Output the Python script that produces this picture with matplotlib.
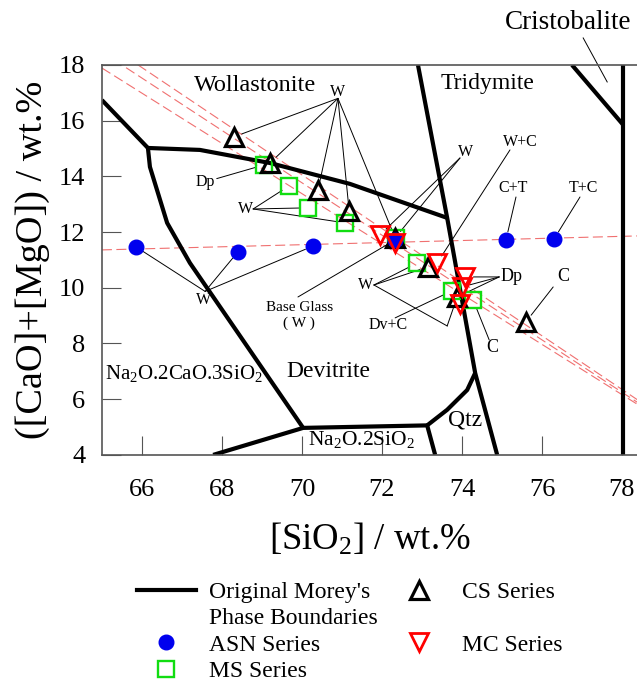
import numpy as np
import matplotlib.pyplot as plt
from matplotlib.lines import Line2D

plt.rcParams['font.family'] = 'Liberation Serif'
plt.rcParams['mathtext.fontset'] = 'custom'
plt.rcParams['mathtext.rm'] = 'Liberation Serif'
plt.rcParams['mathtext.it'] = 'Liberation Serif:italic'

# glass compositions: [SiO2] and [CaO]+[MgO], wt.%
asn_si = [65.85, 68.4, 70.28, 72.33, 75.1, 76.3]
asn_ca = [11.47, 11.29, 11.5, 11.72, 11.72, 11.75]

ms_si = [69.05, 69.68, 70.15, 71.08, 72.35, 72.88, 73.75, 74.28]
ms_ca = [14.41, 13.66, 12.87, 12.33, 11.79, 10.89, 9.89, 9.56]

cs_si = [68.3, 69.2, 70.4, 71.18, 72.33, 73.15, 73.88, 75.6]
cs_ca = [15.42, 14.48, 13.51, 12.76, 11.79, 10.75, 9.67, 8.78]

mc_si = [71.95, 72.33, 73.38, 74.08, 74.0, 73.95]
mc_ca = [11.9, 11.61, 10.89, 10.39, 10.03, 9.42]

# Morey's phase boundaries
b_woll_x = [65.0, 66.15]
b_woll_y = [16.74, 15.02]
b_devw_x = [66.15, 67.45, 69.2, 71.2, 73.63]
b_devw_y = [15.02, 14.95, 14.48, 13.73, 12.51]
b_n2c3_x = [66.15, 66.2, 66.63, 67.2, 70.03]
b_n2c3_y = [15.02, 14.34, 12.33, 10.89, 4.97]
b_ns2_x = [67.78, 70.03, 73.13, 73.33]
b_ns2_y = [4.0, 4.97, 5.06, 4.0]
b_qtz_x = [73.13, 73.63, 74.13, 74.33]
b_qtz_y = [5.06, 5.62, 6.33, 6.94]
b_trid_x = [72.9, 73.63, 74.33, 74.88]
b_trid_y = [18.0, 12.51, 6.94, 4.0]
b_cris_x = [76.75, 78.03]
b_cris_y = [18.0, 15.85]
b_edge_x = [78.03, 78.03]
b_edge_y = [18.0, 4.0]
boundaries = [(b_woll_x, b_woll_y), (b_devw_x, b_devw_y), (b_n2c3_x, b_n2c3_y),
              (b_ns2_x, b_ns2_y), (b_qtz_x, b_qtz_y), (b_trid_x, b_trid_y),
              (b_cris_x, b_cris_y), (b_edge_x, b_edge_y)]

# linear trends: value at SiO2 = 65 and slope
trend_y65 = [17.89, 18.47, 18.87, 11.36]
trend_slope = [-0.902, -0.94, -0.963, 0.0375]

fig = plt.figure(figsize=(6.37, 6.81), dpi=100)
ax = fig.add_axes([0.160, 0.332, 0.840, 0.5726])
ax.set_xlim(65, 78.375)
ax.set_ylim(4, 18)

xx = np.linspace(65, 78.4, 50)
for y0, k in zip(trend_y65, trend_slope):
    ax.plot(xx, y0 + k * (xx - 65), color='#f07070', lw=0.8, dashes=(9, 4), zorder=1)

for bx, by in boundaries:
    ax.plot(bx, by, color='k', lw=3, solid_capstyle='butt', zorder=2)


def pt(xs, ys, i):
    return (xs[i], ys[i])


def callout(text, txy, anchor, targets, size=11.5, via=None):
    ax.text(txy[0], txy[1], text, ha='center', va='center', fontsize=size, zorder=3)
    for t in targets:
        start = anchor
        if via is not None:
            ax.plot([anchor[0], via[0]], [anchor[1], via[1]], color='k', lw=0.7, zorder=3)
            start = via
        ax.annotate('', xy=t, xytext=start,
                    arrowprops=dict(arrowstyle='-', lw=0.7, color='k', shrinkA=0, shrinkB=6),
                    zorder=3)


callout('W', (70.9, 17.03), (70.9, 16.8),
        [pt(cs_si, cs_ca, i) for i in range(5)])
callout('Dp', (67.58, 13.8), (67.87, 13.92), [pt(ms_si, ms_ca, 0)])
callout('W', (68.58, 12.83), (68.78, 12.83), [pt(ms_si, ms_ca, i) for i in (1, 2, 3)])
callout('W', (67.55, 9.57), (67.58, 9.87), [pt(asn_si, asn_ca, i) for i in (0, 1, 2)])
callout('Base Glass\n( W )', (69.93, 9.0), (69.9, 9.67), [pt(asn_si, asn_ca, 3)], size=11)
callout('W', (74.08, 14.88), (73.95, 14.66), [pt(mc_si, mc_ca, 0), pt(cs_si, cs_ca, 4)])
callout('W+C', (75.45, 15.24), (75.2, 14.95), [pt(mc_si, mc_ca, 2)])
callout('C+T', (75.28, 13.58), (75.35, 13.26), [pt(asn_si, asn_ca, 4)])
callout('T+C', (77.03, 13.58), (76.95, 13.26), [pt(asn_si, asn_ca, 5)])
callout('W', (71.6, 10.1), (71.8, 10.1), [pt(ms_si, ms_ca, 5), pt(cs_si, cs_ca, 5)])
callout('', (71.8, 10.1), (71.8, 10.1), [pt(cs_si, cs_ca, 6)], via=(73.63, 8.63))
callout('Dv+C', (72.15, 8.67), (72.33, 8.92), [pt(ms_si, ms_ca, 6)])
callout('Dp', (75.23, 10.39), (74.93, 10.39),
        [pt(mc_si, mc_ca, 3), pt(mc_si, mc_ca, 4), pt(cs_si, cs_ca, 6)], size=13)
callout('C', (74.75, 7.84), (74.68, 8.13), [pt(ms_si, ms_ca, 7)], size=13)
callout('C', (76.53, 10.39), (76.28, 10.03), [pt(cs_si, cs_ca, 7)], size=13)

ax.text(68.83, 17.25, 'Wollastonite', fontsize=17.5, ha='center', va='center')
ax.text(74.65, 17.32, 'Tridymite', fontsize=17, ha='center', va='center')
ax.text(70.65, 7.0, 'Devitrite', fontsize=17, ha='center', va='center')
ax.text(74.08, 5.26, 'Qtz', fontsize=17, ha='center', va='center')
ax.text(65.08, 6.94, 'Na$_2$O.2CaO.3SiO$_2$', fontsize=15, ha='left', va='center')
ax.text(70.15, 4.54, 'Na$_2$O.2SiO$_2$', fontsize=15.5, ha='left', va='center')
ax.text(76.65, 19.54, 'Cristobalite', fontsize=19.5, ha='center', va='center', clip_on=False)
ax.plot([77.03, 77.63], [18.97, 17.39], color='k', lw=0.7, clip_on=False)

ms_style = dict(ls='none', marker='s', ms=11.5, mfc='none', mec='#11dd11', mew=1.7)
cs_style = dict(ls='none', marker='^', ms=13, mfc='none', mec='k', mew=2.3)
asn_style = dict(ls='none', marker='o', ms=10.5, color='#0000ee')
mc_style = dict(ls='none', marker='v', ms=13, mfc='none', mec='#ff0000', mew=2.0)

ax.plot(ms_si, ms_ca, zorder=4, **ms_style)
ax.plot(cs_si, cs_ca, zorder=5, **cs_style)
ax.plot(asn_si, asn_ca, zorder=6, **asn_style)
ax.plot(mc_si, mc_ca, zorder=7, **mc_style)

ax.set_xticks(np.arange(66, 79, 2))
ax.set_yticks(np.arange(4, 19, 2))
ax.tick_params(direction='in', length=14, width=0.8, color='#555555', labelsize=19)
ax.tick_params(axis='x', pad=17)
ax.tick_params(axis='y', pad=12)
ax.spines['right'].set_visible(False)
for s in ('left', 'bottom', 'top'):
    ax.spines[s].set_color('#555555')
    ax.spines[s].set_linewidth(1.2)

ax.set_xlabel('[SiO$_2$] / wt.%', fontsize=26.5, labelpad=15)
ax.set_ylabel('([CaO]+[MgO]) / wt.%', fontsize=27.5, labelpad=6)

blank = Line2D([], [], ls='none')
handles = [Line2D([], [], color='k', lw=3), blank,
           Line2D([], [], **asn_style), Line2D([], [], **ms_style),
           Line2D([], [], **cs_style), blank, Line2D([], [], **mc_style)]
labels = ["Original Morey's", 'Phase Boundaries', 'ASN Series', 'MS Series',
          'CS Series', '', 'MC Series']
fig.legend(handles, labels, ncol=2, frameon=False, loc='upper left',
           bbox_to_anchor=(0.215, 0.146), fontsize=17, handlelength=2.5,
           handletextpad=0.55, columnspacing=0.5, labelspacing=0.2,
           borderpad=0, borderaxespad=0)

fig.savefig('out.png', dpi=100)
